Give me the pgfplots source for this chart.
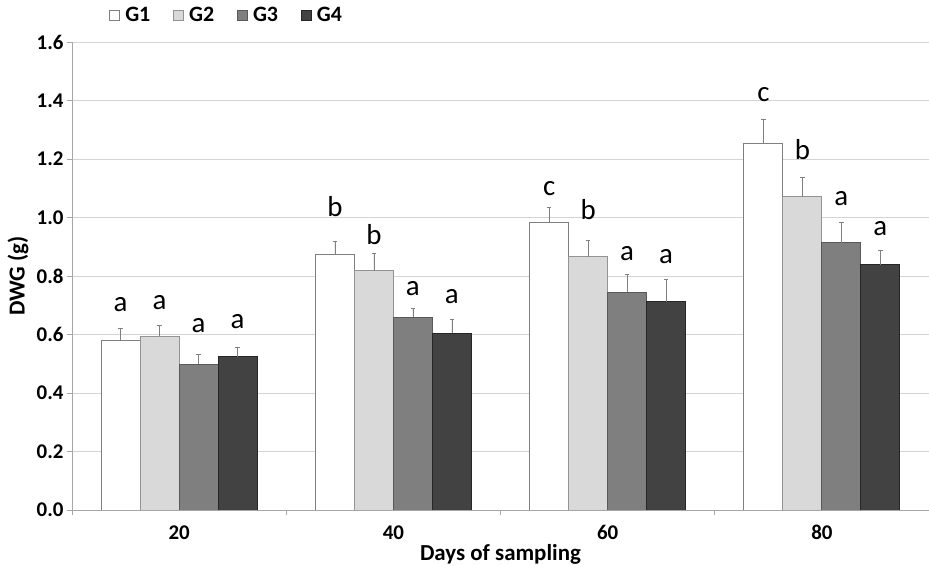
\documentclass[border=0pt]{standalone}
\usepackage{pgfplots}
\pgfplotsset{compat=1.18}
\usepackage{pgfplotstable}
\usepackage{fontspec}
\setmainfont{Carlito}

\definecolor{gOne}{HTML}{FFFFFF}
\definecolor{gTwo}{HTML}{D9D9D9}
\definecolor{gThree}{HTML}{7F7F7F}
\definecolor{gFour}{HTML}{424242}
\definecolor{gridgray}{HTML}{D4D4D4}
\definecolor{axisgray}{HTML}{A6A6A6}
\definecolor{errgray}{HTML}{7F7F7F}

% mean DWG and standard error per sampling day (x = 0,1,2,3 -> 20,40,60,80 d)
\pgfplotstableread{
x y err
0 0.581 0.040
1 0.875 0.045
2 0.982 0.052
3 1.254 0.082
}\gone
\pgfplotstableread{
x y err
0 0.594 0.036
1 0.818 0.060
2 0.866 0.055
3 1.071 0.065
}\gtwo
\pgfplotstableread{
x y err
0 0.499 0.033
1 0.659 0.031
2 0.744 0.061
3 0.914 0.070
}\gthree
\pgfplotstableread{
x y err
0 0.524 0.032
1 0.604 0.049
2 0.712 0.077
3 0.838 0.049
}\gfour

\pgfplotsset{
  legsq/.style={legend image code/.code={
      \draw[##1, line width=0.8bp] (0bp,-5bp) rectangle (10bp,5bp);}},
  errstyle/.style={error bars/.cd, y dir=plus, y explicit,
      error bar style={errgray, line width=0.7bp},
      error mark options={rotate=90, mark size=2.2bp, errgray, line width=0.7bp}},
}

\begin{document}
\begin{tikzpicture}
\begin{axis}[
  scale only axis, width=857bp, height=468bp,
  ybar=0pt, bar width=0.182,
  xmin=-0.5, xmax=3.5, ymin=0, ymax=1.6,
  xtick={0,1,2,3}, xticklabels={20,40,60,80},
  minor xtick={-0.5,0.5,1.5,2.5,3.5},
  ytick={0,0.2,0.4,0.6,0.8,1.0,1.2,1.4,1.6},
  ymajorgrids, grid style={gridgray, line width=0.8bp},
  axis x line*=bottom, axis y line*=left,
  axis line style={axisgray, line width=0.8bp, -},
  tick align=outside, major tick length=5bp, minor tick length=5bp,
  tick style={axisgray, line width=0.8bp},
  major x tick style={draw=none},
  /pgf/number format/assume math mode=true,
  yticklabel style={font=\bfseries\fontsize{21}{24}\selectfont,
    /pgf/number format/.cd, fixed, fixed zerofill, precision=1},
  xticklabel style={font=\bfseries\fontsize{21}{24}\selectfont, yshift=-7bp},
  every axis x label/.style={at={(axis description cs:0.5,0)}, anchor=center, yshift=-44bp},
  every axis y label/.style={at={(axis description cs:0,0.5)}, anchor=center, xshift=-54bp, rotate=90},
  label style={font=\bfseries\fontsize{23}{26}\selectfont},
  xlabel={Days of sampling},
  ylabel={DWG (g)},
  legend style={at={(0.04,1)}, anchor=west, yshift=27bp, draw=none, fill=none,
    legend columns=4, font=\bfseries\fontsize{22}{25}\selectfont,
    nodes={inner xsep=5bp},
    /tikz/every even column/.append style={column sep=18bp}},
]
\addplot[legsq, fill=gOne, draw=errgray, line width=0.8bp, errstyle]
  table[x=x, y=y, y error=err]{\gone};
\addlegendentry{G1}
\addplot[legsq, fill=gTwo, draw=gray!85, line width=0.8bp, errstyle]
  table[x=x, y=y, y error=err]{\gtwo};
\addlegendentry{G2}
\addplot[legsq, fill=gThree, draw=black!65, line width=0.8bp, errstyle]
  table[x=x, y=y, y error=err]{\gthree};
\addlegendentry{G3}
\addplot[legsq, fill=gFour, draw=black!85, line width=0.8bp, errstyle]
  table[x=x, y=y, y error=err]{\gfour};
\addlegendentry{G4}

% significance letters
\begin{scope}[every node/.style={font=\fontsize{29}{33}\selectfont, anchor=center}]
\node at (axis cs:-0.273,0.701) {a};
\node at (axis cs:-0.091,0.708) {a};
\node at (axis cs:0.091,0.632) {a};
\node at (axis cs:0.273,0.644) {a};
\node at (axis cs:0.727,1.037) {b};
\node at (axis cs:0.909,0.940) {b};
\node at (axis cs:1.091,0.758) {a};
\node at (axis cs:1.273,0.729) {a};
\node at (axis cs:1.727,1.100) {c};
\node at (axis cs:1.909,1.026) {b};
\node at (axis cs:2.091,0.878) {a};
\node at (axis cs:2.273,0.866) {a};
\node at (axis cs:2.727,1.419) {c};
\node at (axis cs:2.909,1.231) {b};
\node at (axis cs:3.091,1.066) {a};
\node at (axis cs:3.273,0.963) {a};
\end{scope}
\end{axis}
\pgfresetboundingbox
\path[use as bounding box] (current axis.south west) ++(-72bp,-56bp) rectangle ++(929bp,566bp);
\end{tikzpicture}
\end{document}
